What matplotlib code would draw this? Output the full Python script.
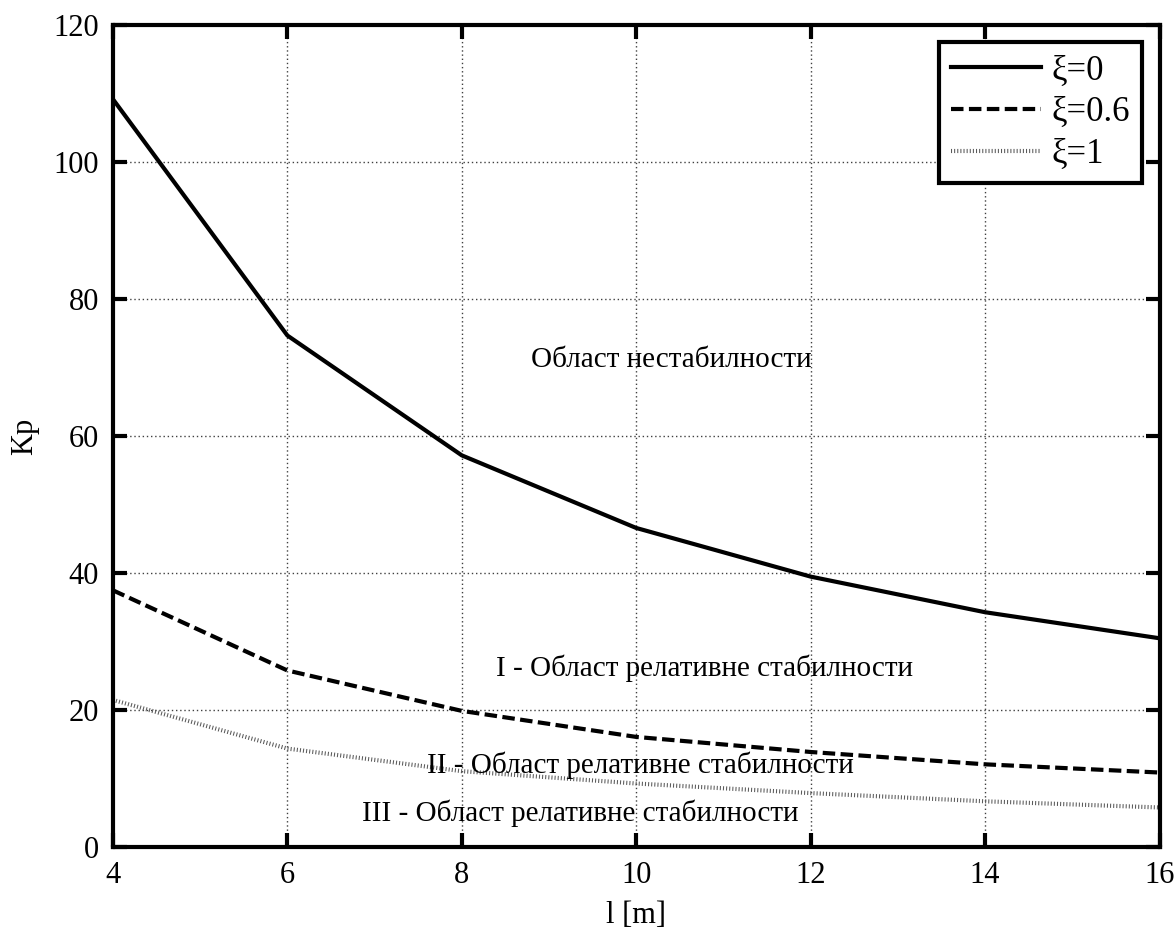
import matplotlib
matplotlib.use("Agg")
import matplotlib.pyplot as plt

l_m = [4, 6, 8, 10, 12, 14, 16]
kp_xi0 = [109.2, 74.7, 57.2, 46.6, 39.5, 34.3, 30.5]
kp_xi06 = [37.5, 25.8, 19.9, 16.1, 13.9, 12.1, 10.9]
kp_xi1 = [21.5, 14.4, 11.1, 9.3, 7.9, 6.7, 5.8]
series_labels = ["ξ=0", "ξ=0.6", "ξ=1"]

region_texts = ["Област нестабилности",
                "I - Област релативне стабилности",
                "II - Област релативне стабилности",
                "III - Област релативне стабилности"]
region_pos = [(10.4, 71.1), (10.78, 26.1), (10.05, 12.0), (9.36, 5.0)]

plt.rcParams["font.family"] = ["Liberation Serif", "DejaVu Serif"]
plt.rcParams["font.size"] = 21

fig = plt.figure(figsize=(11.76, 9.31), dpi=100)
ax = fig.add_axes([0.096, 0.090, 0.890, 0.883])

ax.plot(l_m, kp_xi0, color="black", lw=3, label=series_labels[0])
ax.plot(l_m, kp_xi06, color="black", lw=3, linestyle=(0, (3, 1.3)), label=series_labels[1])
ax.plot(l_m, kp_xi1, color="0.35", lw=3, linestyle=(0, (0.25, 0.5)), label=series_labels[2])

for txt, (x, y) in zip(region_texts, region_pos):
    ax.text(x, y, txt, ha="center", va="center", fontsize=21)

ax.set_xlim(4, 16)
ax.set_ylim(0, 120)
ax.set_xticks(range(4, 17, 2))
ax.set_yticks(range(0, 121, 20))
ax.grid(True, color="0.25", linestyle=(0, (1, 2)), lw=1)
ax.tick_params(direction="in", length=10, width=3, top=True, right=True, pad=10,
               labelsize=22)
for s in ax.spines.values():
    s.set_linewidth(3)

ax.set_xlabel("l [m]", labelpad=8, fontsize=22)
ax.set_ylabel("Kp", labelpad=10, fontsize=22)

leg = ax.legend(loc="upper right", fancybox=False, framealpha=1, edgecolor="black",
                handlelength=2.6, handletextpad=0.3, borderaxespad=0.5,
                borderpad=0.35, labelspacing=0.25, fontsize=25)
leg.get_frame().set_linewidth(3)

fig.savefig("out.png", dpi=100)
